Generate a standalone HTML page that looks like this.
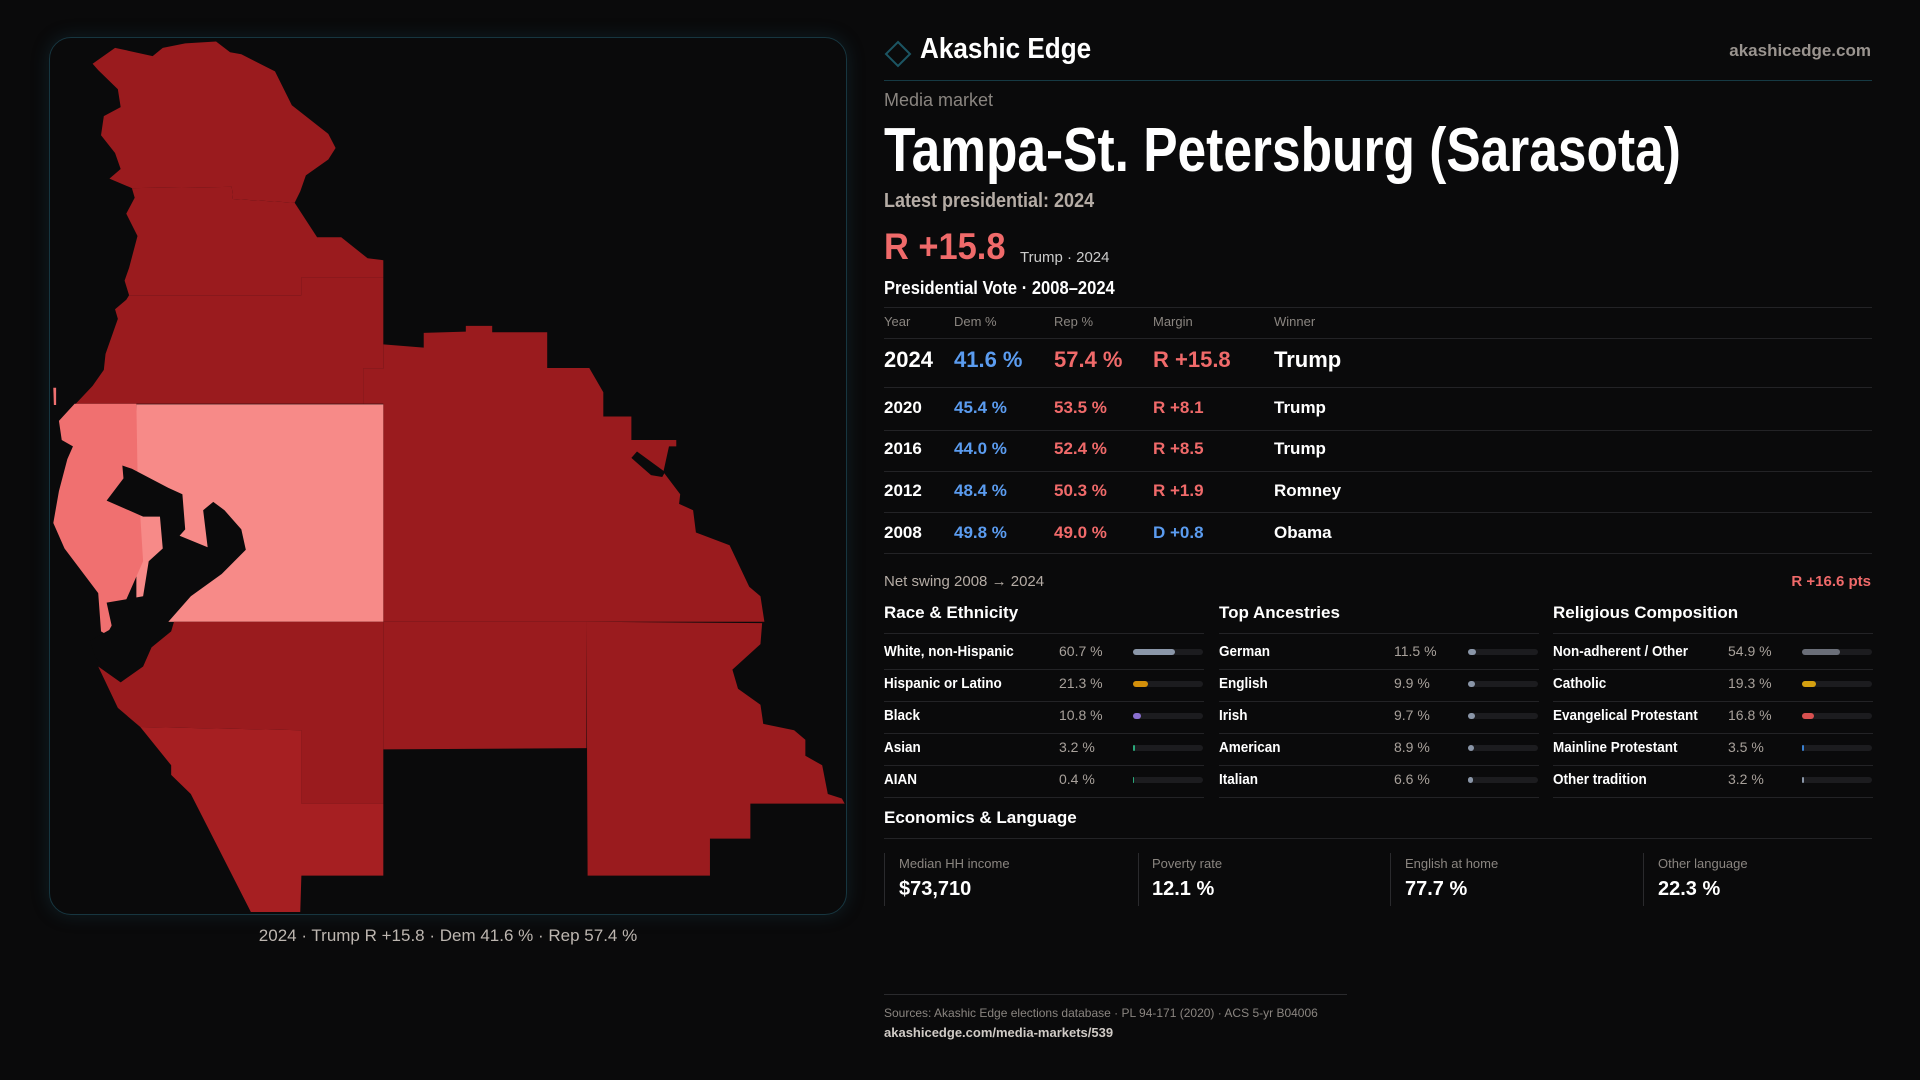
<!DOCTYPE html>
<html><head><meta charset="utf-8">
<style>
*{margin:0;padding:0;box-sizing:border-box}
body{width:1920px;height:1080px;background:#0a0a0b;font-family:"Liberation Sans",sans-serif;color:#fff;position:relative;overflow:hidden}
.abs{position:absolute;white-space:nowrap}
.panel{position:absolute;left:49px;top:37px;width:798px;height:878px;border:1px solid #173640;border-radius:22px;box-shadow:0 0 18px rgba(30,90,110,.25)}
.hr{position:absolute;height:1px;background:#232326}
.sq{display:inline-block;transform-origin:left center}
.th{font-size:13px;color:#8a8580;top:314px}
.row{position:absolute;left:884px;width:988px;font-weight:bold}
.row span{position:absolute;top:0}
.blue{color:#5b9cf0}.red{color:#f06a6a}
.sec{font-size:17px;font-weight:bold;top:603px}
.lab{font-size:13px;color:#8a8580;top:856px}
.val{font-size:20px;font-weight:bold;top:878px}
.vline{position:absolute;top:853px;width:1px;height:53px;background:#2a2a2d}
</style></head><body>
<div class="panel"></div>
<svg class="abs" style="left:0;top:0" width="880" height="1000" viewBox="0 0 1568 1568" preserveAspectRatio="none">
<polygon fill="#9a1b1e" points="165,100 205,75 272,88 290,75 330,68 385,65 410,82 430,85 490,112 520,165 585,210 598,232 585,250 545,275 535,300 525,318 415,312 413,293 235,295 195,280 215,265 205,240 180,212 185,182 215,168 210,140 175,110"/>
<polygon fill="#9a1b1e" points="235,295 413,293 415,312 525,318 565,372 608,372 655,405 683,408 683,435 537,435 537,463 230,463 222,440 230,420 245,370 225,335 240,310"/>
<polygon fill="#9a1b1e" points="230,463 537,463 537,435 683,435 683,578 647,578 647,633 135,633 165,605 185,580 188,555 210,500 205,485 225,470"/>
<polygon fill="#9a1b1e" points="683,540 755,545 755,522 830,520 830,511 877,511 877,521 975,521 975,577 1050,577 1075,615 1075,653 1125,653 1125,690 1205,690 1205,700 1192,700 1182,740 1212,775 1210,790 1235,800 1240,835 1300,855 1335,920 1355,935 1362,975 683,975 683,633 647,633 647,578 683,578"/>
<polygon fill="#0a0a0b" points="1125,718 1135,708 1185,740 1180,748 1160,745"/>
<rect fill="#f78a88" x="243" y="634" width="440" height="341"/>
<polygon fill="#f07070" points="133,633 243,633 245,740 255,880 225,940 190,995 180,990 175,930 115,860 95,820 105,770 120,720 130,700 110,690 105,660"/>
<polygon fill="#0a0a0b" points="190,785 220,750 218,730 235,735 300,765 325,775 330,830 320,840 370,858 362,800 380,787 400,800 430,830 438,862 395,900 340,935 300,975 305,990 270,1015 255,1045 215,1070 195,1060 170,1030 160,1005 200,985 190,945 255,935 265,880 290,860 285,810 255,810"/>
<polygon fill="#9a1b1e" points="175,1045 215,1070 255,1045 270,1015 305,990 310,975 683,975 683,1260 537,1260 537,1145 250,1140 210,1110"/>
<polygon fill="#9a1b1e" points="683,975 1045,975 1045,1173 683,1175"/>
<polygon fill="#9a1b1e" points="1045,975 1358,977 1355,1010 1305,1050 1315,1080 1355,1105 1360,1135 1415,1145 1435,1160 1435,1185 1465,1200 1475,1245 1500,1252 1505,1260 1337,1260 1337,1315 1265,1315 1265,1373 1047,1373"/>
<polygon fill="#a61f22" points="250,1140 537,1145 537,1260 683,1260 683,1373 537,1373 535,1430 447,1430 340,1245 305,1215 305,1200"/>
<polygon fill="#f07070" points="95,608 100,608 100,635 96,635"/>
</svg>
<div class="abs" style="left:0;width:896px;text-align:center;top:926px;font-size:17px;color:#bdb6b0">2024 · Trump R +15.8 · Dem 41.6 % · Rep 57.4 %</div>

<svg class="abs" style="left:884px;top:40px" width="28" height="28"><polygon points="14,2 26,14 14,26 2,14" fill="none" stroke="#1c5563" stroke-width="2"/></svg>
<div class="abs" style="left:920px;top:33px;font-size:29px;font-weight:bold"><span class="sq" style="transform:scaleX(.9)">Akashic Edge</span></div>
<div class="abs" style="right:49px;top:41px;font-size:17px;color:#9a948f;font-weight:bold">akashicedge.com</div>
<div class="hr" style="left:884px;width:988px;top:80px;background:#163a44"></div>
<div class="abs" style="left:884px;top:90px;font-size:18px;color:#8a8580">Media market</div>
<div class="abs" style="left:884px;top:115px;font-size:62px;font-weight:bold"><span class="sq" style="transform:scaleX(.83)">Tampa-St. Petersburg (Sarasota)</span></div>
<div class="abs" style="left:884px;top:190px;font-size:20px;color:#b5aca5;font-weight:bold"><span class="sq" style="transform:scaleX(.9)">Latest presidential: 2024</span></div>
<div class="abs red" style="left:884px;top:226px;font-size:37px;font-weight:bold"><span class="sq" style="transform:scaleX(.93)">R +15.8</span></div>
<div class="abs" style="left:1020px;top:249px;font-size:15px;color:#ccc">Trump · 2024</div>
<div class="abs" style="left:884px;top:278px;font-size:18px;font-weight:bold"><span class="sq" style="transform:scaleX(.92)">Presidential Vote · 2008–2024</span></div>
<div class="hr" style="left:884px;width:988px;top:307px"></div>
<div class="abs th" style="left:884px">Year</div>
<div class="abs th" style="left:954px">Dem %</div>
<div class="abs th" style="left:1054px">Rep %</div>
<div class="abs th" style="left:1153px">Margin</div>
<div class="abs th" style="left:1274px">Winner</div>
<div class="hr" style="left:884px;width:988px;top:338px"></div>
<div id="vt"></div>
<div class="abs" style="left:884px;top:573px;font-size:15px;color:#b5aca5">Net swing 2008 → 2024</div>
<div class="abs red" style="right:49px;top:573px;font-size:15px;font-weight:bold">R +16.6 pts</div>
<div class="abs sec" style="left:884px">Race &amp; Ethnicity</div>
<div class="abs sec" style="left:1219px">Top Ancestries</div>
<div class="abs sec" style="left:1553px">Religious Composition</div>
<div id="demo"></div>
<div class="abs sec" style="left:884px;top:808px">Economics &amp; Language</div>
<div class="hr" style="left:884px;width:988px;top:838px"></div>
<div class="vline" style="left:884px"></div><div class="vline" style="left:1138px"></div><div class="vline" style="left:1390px"></div><div class="vline" style="left:1643px"></div>
<div class="abs lab" style="left:899px">Median HH income</div>
<div class="abs val" style="left:899px">$73,710</div>
<div class="abs lab" style="left:1152px">Poverty rate</div>
<div class="abs val" style="left:1152px">12.1 %</div>
<div class="abs lab" style="left:1405px">English at home</div>
<div class="abs val" style="left:1405px">77.7 %</div>
<div class="abs lab" style="left:1658px">Other language</div>
<div class="abs val" style="left:1658px">22.3 %</div>
<div class="hr" style="left:884px;width:463px;top:994px;background:#2a2a2d"></div>
<div class="abs" style="left:884px;top:1006px;font-size:12px;color:#8a8580">Sources: Akashic Edge elections database · PL 94-171 (2020) · ACS 5-yr B04006</div>
<div class="abs" style="left:884px;top:1025px;font-size:13px;color:#d0cbc6;font-weight:bold">akashicedge.com/media-markets/539</div>
<script>
const years=["2024","2020","2016","2012","2008"];
const demPct=[41.6,45.4,44.0,48.4,49.8];
const repPct=[57.4,53.5,52.4,50.3,49.0];
const margins=[15.8,8.1,8.5,1.9,-0.8];
const winners=["Trump","Trump","Trump","Romney","Obama"];
const raceLabels=["White, non-Hispanic","Hispanic or Latino","Black","Asian","AIAN"];
const raceValues=[60.7,21.3,10.8,3.2,0.4];
const ancLabels=["German","English","Irish","American","Italian"];
const ancValues=[11.5,9.9,9.7,8.9,6.6];
const relLabels=["Non-adherent / Other","Catholic","Evangelical Protestant","Mainline Protestant","Other tradition"];
const relValues=[54.9,19.3,16.8,3.5,3.2];
const raceColors=["#8a96a8","#d4900a","#8a6fd0","#2aa87a","#2aa87a"];
const ancColors=["#8a96a8","#8a96a8","#8a96a8","#8a96a8","#8a96a8"];
const relColors=["#6a6e78","#d4a010","#d85050","#3a80d0","#8a96a8"];
const vt=document.getElementById('vt');
const rowTops=[347,398,439,481,523],rowSize=[22,17,17,17,17],sepTops=[387,430,471,512,553];
years.forEach((y,i)=>{
  const m=margins[i];
  const r=document.createElement('div');r.className='row';
  
  
  r.style.top=rowTops[i]+'px';r.style.fontSize=rowSize[i]+'px';
  const mt=(m>=0?'R +':'D +')+Math.abs(m).toFixed(1);
  r.innerHTML=`<span style="left:0">${y}</span><span class="blue" style="left:70px">${demPct[i].toFixed(1)} %</span><span class="red" style="left:170px">${repPct[i].toFixed(1)} %</span><span class="${m>=0?'red':'blue'}" style="left:269px">${mt}</span><span style="left:390px">${winners[i]}</span>`;
  vt.appendChild(r);
  const h=document.createElement('div');h.className='hr';h.style.cssText=`left:884px;width:988px;top:${sepTops[i]}px`;
  vt.appendChild(h);
});
const demo=document.getElementById('demo');
function col(x,labels,vals,colors,name){
  const hh=document.createElement('div');hh.className='hr';hh.style.cssText=`left:${x}px;width:320px;top:633px`;demo.appendChild(hh);
  labels.forEach((l,i)=>{
    const top=643+i*32;
    const a=document.createElement('div');a.className='abs';
    
    
    a.style.cssText=`left:${x}px;top:${top}px;font-size:15px;font-weight:bold`;a.innerHTML=`<span class="sq" style="transform:scaleX(.9)">${l}</span>`;demo.appendChild(a);
    const v=document.createElement('div');v.className='abs';
    
    
    v.style.cssText=`left:${x+175}px;top:${top}px;font-size:14px;color:#a8a19b`;v.textContent=vals[i].toFixed(1)+' %';demo.appendChild(v);
    const bg=document.createElement('div');bg.className='abs';
    
    
    bg.style.cssText=`left:${x+249}px;top:${top+6}px;width:70px;height:6px;border-radius:3px;background:#1c1c1f`;demo.appendChild(bg);
    const f=document.createElement('div');f.className='abs';
    
    
    const w=Math.max(vals[i]/100*70,vals[i]>=1?2:0);
    f.style.cssText=`left:${x+249}px;top:${top+6}px;width:${w}px;height:6px;border-radius:3px;background:${colors[i]}`;demo.appendChild(f);
    const s=document.createElement('div');s.className='hr';s.style.cssText=`left:${x}px;width:320px;top:${top+26}px`;demo.appendChild(s);
  });
}
col(884,raceLabels,raceValues,raceColors,'race');
col(1219,ancLabels,ancValues,ancColors,'ancestry');
col(1553,relLabels,relValues,relColors,'religion');
</script>
</body></html>
